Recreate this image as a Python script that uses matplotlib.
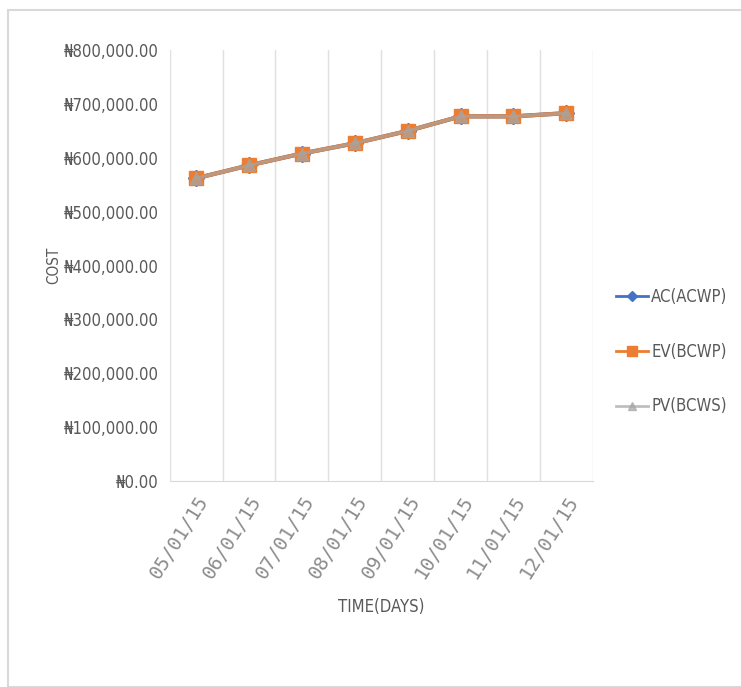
import matplotlib.pyplot as plt
from matplotlib.patches import Rectangle

dates = ["05/01/15", "06/01/15", "07/01/15", "08/01/15",
         "09/01/15", "10/01/15", "11/01/15", "12/01/15"]
ac = [562000, 586000, 608000, 627000, 650000, 677000, 677000, 683000]
ev = [562000, 586000, 608000, 627000, 650000, 677000, 677000, 683000]
pv = [562000, 586000, 608000, 627000, 650000, 677000, 677000, 683000]
yticks = [0, 100000, 200000, 300000, 400000, 500000, 600000, 700000, 800000]

plt.rcParams['font.family'] = ['DejaVu Sans']
plt.rcParams['font.stretch'] = 'condensed'
text_color = '#595959'

fig = plt.figure(figsize=(7.41, 6.87), dpi=100)
ax = fig.add_axes([0.229, 0.300, 0.571, 0.627])

x = list(range(len(dates)))
ax.plot(x, ac, color='#4472C4', lw=3, marker='D', ms=8, label='AC(ACWP)', zorder=3)
ax.plot(x, ev, color='#ED7D31', lw=3, marker='s', ms=10, label='EV(BCWP)', zorder=4)
ax.plot(x, pv, color='#A5A5A5', lw=2.2, marker='^', ms=8, alpha=0.7,
        label='PV(BCWS)', zorder=5)

ax.set_xlim(-0.5, len(dates) - 0.5)
ax.set_ylim(0, 800000)
ax.set_yticks(yticks)
ax.set_yticklabels(['\u20a6' + f"{v:,.2f}" for v in yticks], fontsize=12, color=text_color)
ax.set_xticks(x)
ax.set_xticklabels(dates, rotation=58, ha='right', va='top', rotation_mode='anchor',
                   fontsize=14, family='DejaVu Sans Mono', color='#8c8c8c')
ax.set_xticks([i - 0.5 for i in range(len(dates) + 1)], minor=True)
ax.grid(True, which='minor', axis='x', color='#e0e0e0', lw=1)
ax.tick_params(which='both', length=0, pad=8)

for s in ['top', 'right', 'left']:
    ax.spines[s].set_visible(False)
ax.spines['bottom'].set_color('#d9d9d9')

ax.set_xlabel('TIME(DAYS)', fontsize=12, color=text_color, labelpad=12)
ax.set_ylabel('COST', fontsize=11, color=text_color, labelpad=2)

leg = ax.legend(loc='center left', bbox_to_anchor=(1.02, 0.30), frameon=False,
                fontsize=12, labelcolor=text_color, labelspacing=2.2,
                handlelength=1.9, handletextpad=0.2, markerscale=0.7)
for line in leg.get_lines():
    line.set_linewidth(2)

# outer chart frame
fig.patches.append(Rectangle((8 / 741, 0), 1, 1 - 10 / 687, transform=fig.transFigure,
                             fill=False, edgecolor='#d9d9d9', lw=1.5))

fig.savefig('out.png', dpi=100)
